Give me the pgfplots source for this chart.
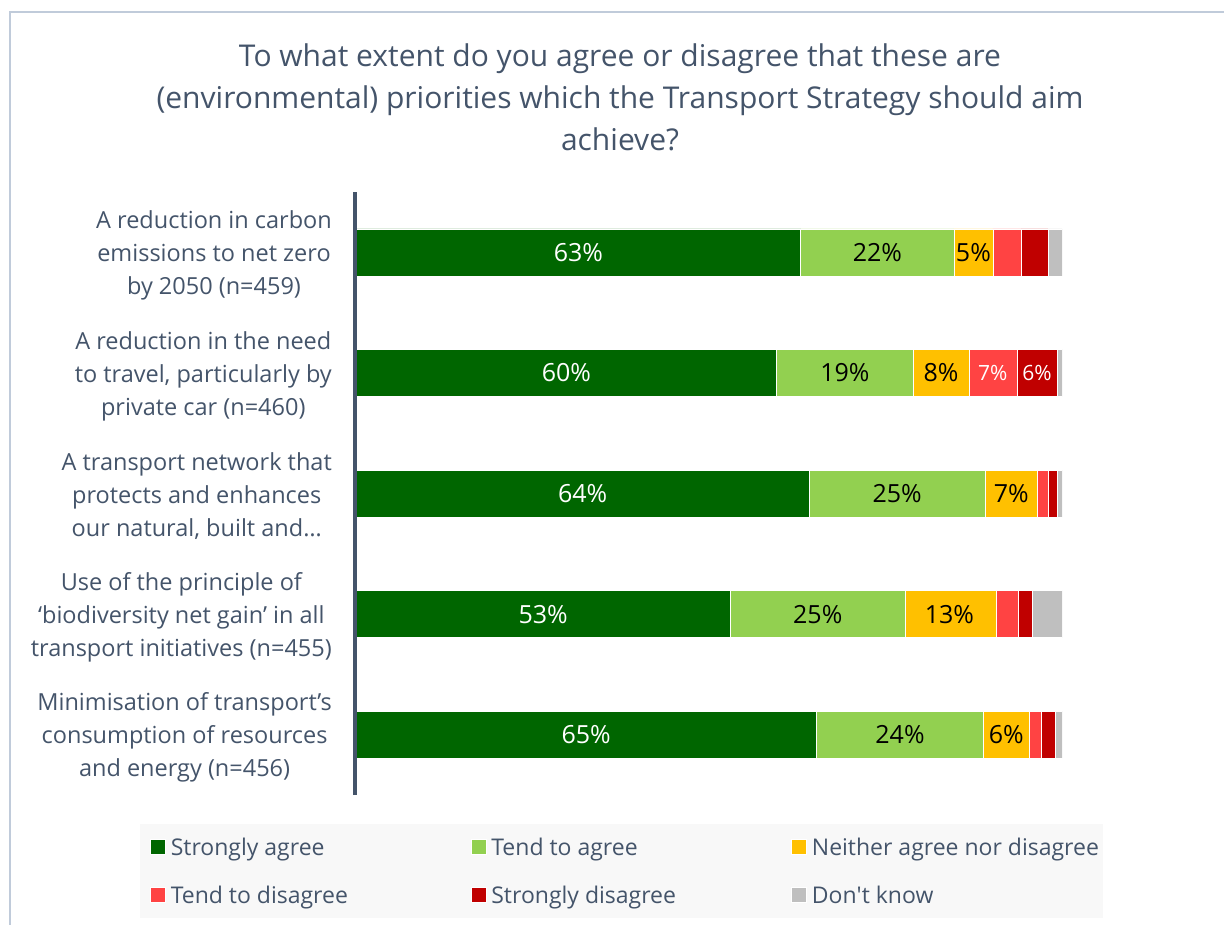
\documentclass[border=0pt]{standalone}
\usepackage{fontspec}
\setmainfont{Open Sans}
\usepackage{pgfplots}
\pgfplotsset{compat=1.18}
\definecolor{sa}{RGB}{0,102,0}
\definecolor{ta}{RGB}{146,208,80}
\definecolor{ne}{RGB}{255,192,0}
\definecolor{td}{RGB}{255,67,67}
\definecolor{sd}{RGB}{192,0,0}
\definecolor{dk}{RGB}{191,191,191}
\definecolor{txt}{RGB}{68,84,106}
\definecolor{framec}{RGB}{192,203,218}
\definecolor{legbg}{RGB}{248,248,248}
\newcommand{\lfont}{\fontsize{23bp}{26bp}\selectfont}
\newcommand{\bfontl}{\fontsize{25bp}{28bp}\selectfont}
\newcommand{\bfonts}{\fontsize{21bp}{24bp}\selectfont}
\begin{document}
\begin{tikzpicture}[x=1bp,y=1bp]
\useasboundingbox (0,0) rectangle (1224,-925);
\draw[framec, line width=2bp] (10,-925) -- (10,-12) -- (1224,-12);
\node[txt, align=center, font=\fontsize{30bp}{42bp}\selectfont] at (620,-97)
  {To what extent do you agree or disagree that these are\\(environmental) priorities which the Transport Strategy should aim\\achieve?};
\begin{axis}[
  at={(356bp,-795bp)}, anchor=south west,
  width=706bp, height=603bp, scale only axis,
  xbar stacked, bar width=47bp,
  xmin=0, xmax=100, ymin=-0.5, ymax=4.5, y dir=reverse,
  axis line style={draw=none},
  xtick=\empty,
  ytick={0,1,2,3,4},
  major tick length=0pt,
  yticklabels={
    {A reduction in carbon\\emissions to net zero\\by 2050 (n=459)},
    {A reduction in the need\\to travel, particularly by\\private car (n=460)},
    {A transport network that\\protects and enhances\\our natural, built and…},
    {Use of the principle of\\‘biodiversity net gain’ in all\\transport initiatives (n=455)},
    {Minimisation of transport’s\\consumption of resources\\and energy (n=456)}},
  yticklabel style={align=center, anchor=east, inner sep=0pt, xshift=-24bp, yshift=-3bp, text=txt, font=\fontsize{23.5bp}{33bp}\selectfont},
  legend columns=3,
  legend style={at={(axis description cs:-0.306,-0.048)}, anchor=north west,
    draw=none, fill=legbg, inner xsep=10bp, inner ysep=11.5bp, row sep=25bp,
    font=\lfont, text=txt,
    /tikz/every odd column/.append style={column sep=3bp}},
  legend cell align=left,
  legend image code/.code={\fill[#1] (0bp,-7.5bp) rectangle (15bp,7.5bp);},
  every axis plot/.append style={draw=white, line width=0.6bp},
]
\addplot[fill=sa] coordinates {(63,0) (59.6,1) (64.2,2) (53,3) (65.2,4)};
\addlegendentry{\makebox[298bp][l]{Strongly agree}}
\addplot[fill=ta] coordinates {(21.7,0) (19.3,1) (24.9,2) (24.8,3) (23.7,4)};
\addlegendentry{\makebox[298bp][l]{Tend to agree}}
\addplot[fill=ne] coordinates {(5.5,0) (7.9,1) (7.4,2) (12.9,3) (6.4,4)};
\addlegendentry{\makebox[279bp][l]{Neither agree nor disagree}}
\addplot[fill=td] coordinates {(4.0,0) (6.8,1) (1.6,2) (3.1,3) (1.7,4)};
\addlegendentry{\makebox[298bp][l]{Tend to disagree}}
\addplot[fill=sd] coordinates {(3.8,0) (5.7,1) (1.3,2) (2.0,3) (2.1,4)};
\addlegendentry{\makebox[298bp][l]{Strongly disagree}}
\addplot[fill=dk] coordinates {(2.0,0) (0.7,1) (0.7,2) (4.2,3) (1.0,4)};
\addlegendentry{Don\textquotesingle t know}
\end{axis}
\begin{axis}[
  at={(356bp,-795bp)}, anchor=south west,
  width=706bp, height=603bp, scale only axis,
  xmin=0, xmax=100, ymin=-0.5, ymax=4.5, y dir=reverse,
  hide axis,
  every node near coord/.append style={anchor=center, font=\bfontl},
]
\addplot[draw=none, mark=none, nodes near coords, point meta=explicit symbolic,
  every node near coord/.append style={text=white}]
  coordinates {(31.5,0) [63\%] (29.8,1) [60\%] (32.1,2) [64\%] (26.5,3) [53\%] (32.6,4) [65\%]};
\addplot[draw=none, mark=none, nodes near coords, point meta=explicit symbolic,
  every node near coord/.append style={text=white, font=\bfonts}]
  coordinates {(90.2,1) [7\%] (96.45,1) [6\%]};
\addplot[draw=none, mark=none, nodes near coords, point meta=explicit symbolic,
  every node near coord/.append style={text=black}]
  coordinates {(73.85,0) [22\%] (69.25,1) [19\%] (76.65,2) [25\%] (65.4,3) [25\%] (77.05,4) [24\%]
               (87.45,0) [5\%] (82.85,1) [8\%] (92.8,2) [7\%] (84.05,3) [13\%] (92.1,4) [6\%]};
\end{axis}
\draw[txt, line width=4bp] (355,-795) -- (355,-192);
\end{tikzpicture}
\end{document}
